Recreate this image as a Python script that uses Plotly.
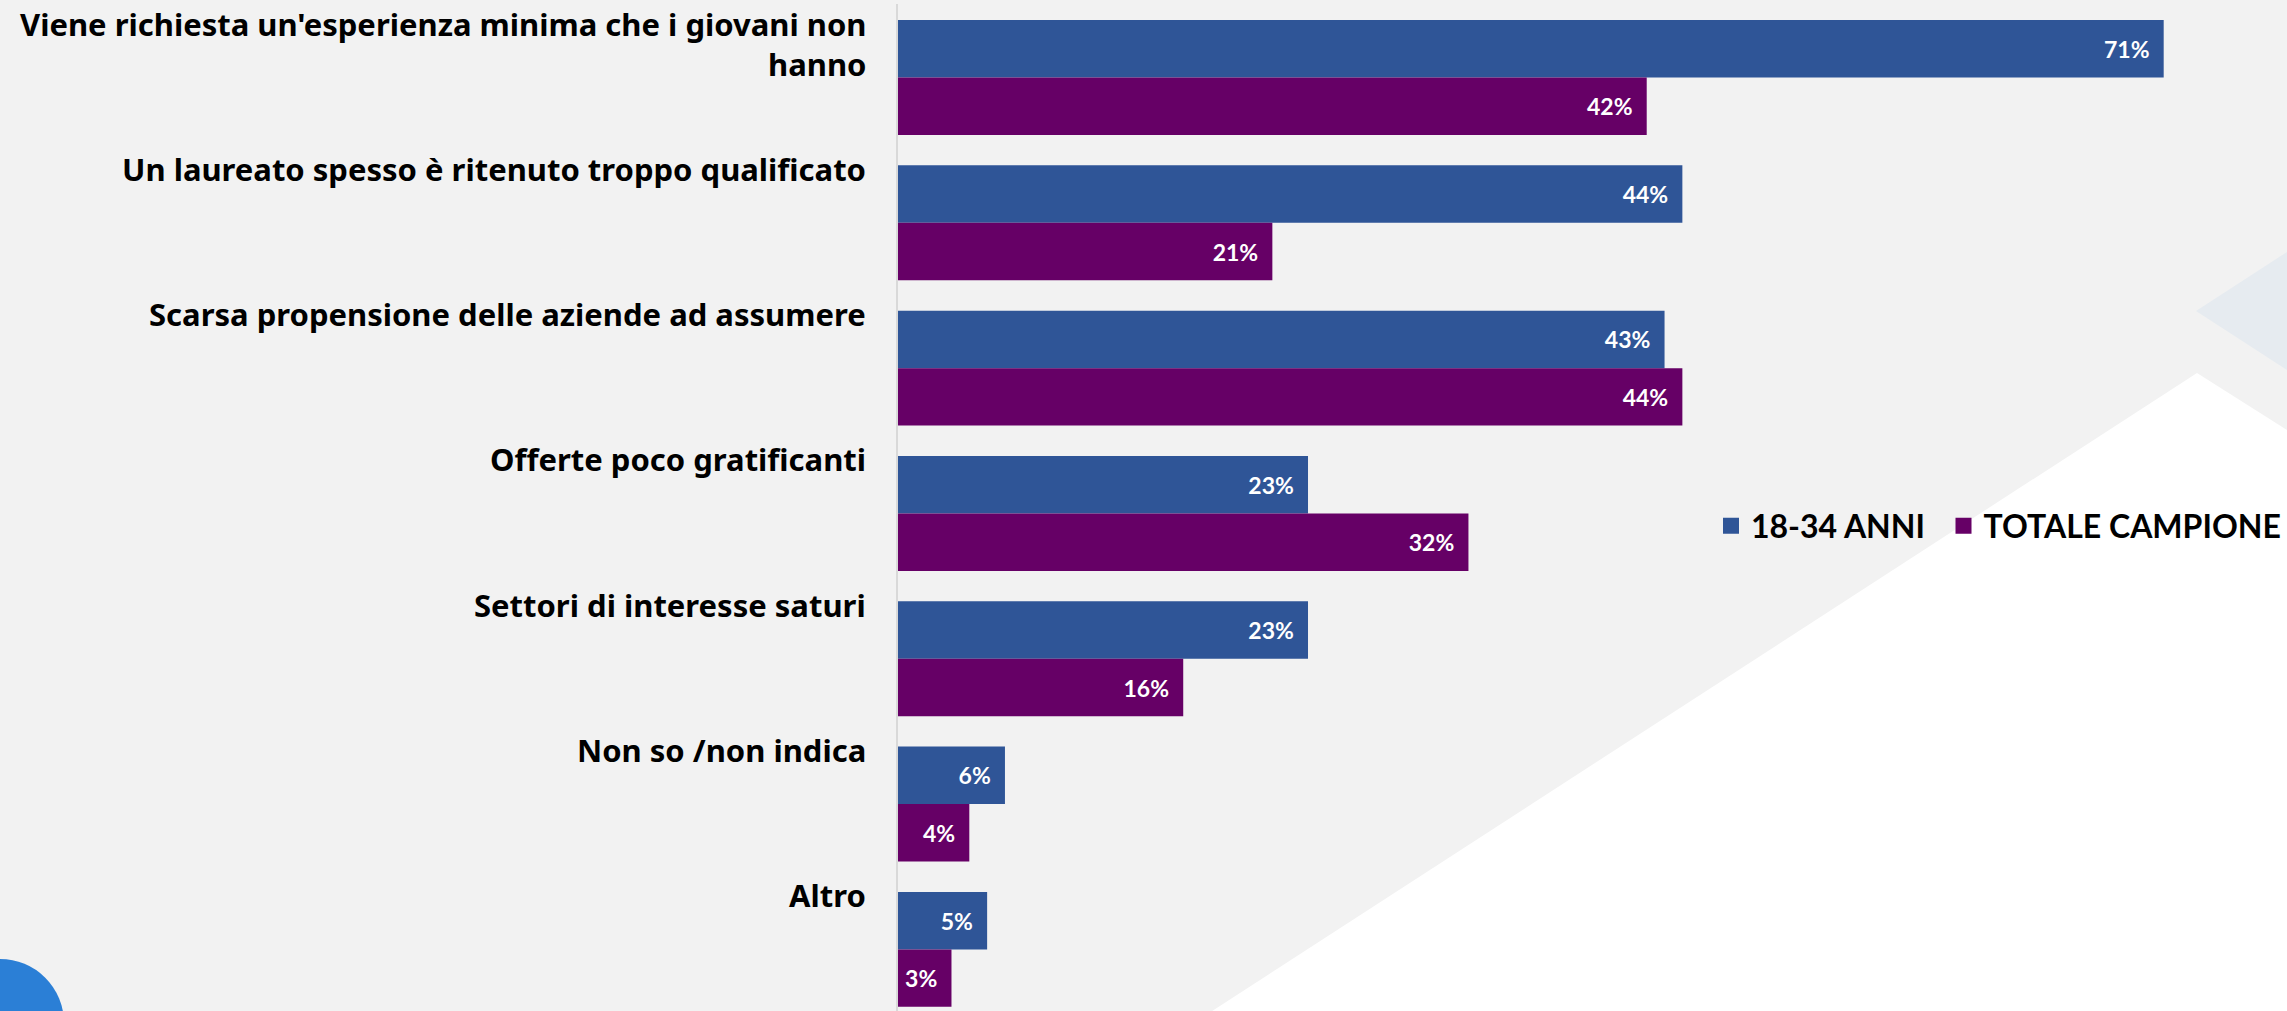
import plotly.graph_objects as go

categories = [
    "Viene richiesta un'esperienza minima che i giovani non<br>hanno",
    "Un laureato spesso è ritenuto troppo qualificato",
    "Scarsa propensione delle aziende ad assumere",
    "Offerte poco gratificanti",
    "Settori di interesse saturi",
    "Non so /non indica",
    "Altro",
]
series_names = ["18-34 ANNI", "TOTALE CAMPIONE"]
giovani = [71, 44, 43, 23, 23, 6, 5]
totale = [42, 21, 44, 32, 16, 4, 3]
label_lines = [2, 1, 1, 1, 1, 1, 1]

BLUE = "#2F5597"
PURPLE = "#660066"
BG = "#F2F2F2"

FW, FH = 2287, 1011
ML, MR, MT, MB = 898, 52, 4, 0
PW, PH = FW - ML - MR, FH - MT - MB


def px(x):
    return (x - ML) / PW


def py(y):
    return 1 - (y - MT) / PH


ycats = [f"c{i}" for i in range(len(categories))]

fig = go.Figure()
pad = "\u00a0\u00a0"
for name, vals, col in [(series_names[0], giovani, BLUE), (series_names[1], totale, PURPLE)]:
    fig.add_trace(go.Bar(
        y=ycats, x=vals, orientation="h", name=name, showlegend=False,
        marker=dict(color=col, line=dict(width=0)),
        text=[f"{v}%{pad}" for v in vals],
        textposition="inside", insidetextanchor="end", textangle=0,
        textfont=dict(family="Lato", size=23, color="white", weight="bold"),
        cliponaxis=False,
    ))
# legend entries (square swatches), one legend per series
for name, col, leg in [(series_names[0], BLUE, "legend"), (series_names[1], PURPLE, "legend2")]:
    fig.add_trace(go.Scatter(
        x=[None], y=[None], mode="markers", name=name,
        marker=dict(symbol="square", size=16, color=col),
        showlegend=True, legend=leg,
    ))

annotations = []
for cat, yc, nl in zip(categories, ycats, label_lines):
    annotations.append(dict(
        x=0, xref="x", y=yc, yref="y", text=cat, showarrow=False,
        xanchor="right", yanchor="middle", align="right",
        xshift=-30, yshift=54 if nl == 1 else 34,
        font=dict(family="Noto Sans", size=31, color="black", weight="bold"),
    ))

shapes = [
    dict(type="path", xref="paper", yref="paper", layer="below",
         path=f"M{px(2197)},{py(373)} L{px(2290)},{py(432)} L{px(2290)},{py(1015)} L{px(1206)},{py(1015)} Z",
         fillcolor="white", line=dict(width=0)),
    dict(type="path", xref="paper", yref="paper", layer="below",
         path=f"M{px(2196)},{py(311)} L{px(2290)},{py(250)} L{px(2290)},{py(372)} Z",
         fillcolor="#E6EBF0", line=dict(width=0)),
    dict(type="circle", xref="paper", yref="paper", layer="below",
         x0=px(-64), x1=px(64), y0=py(959), y1=py(1087),
         fillcolor="#2B7FD6", line=dict(width=0)),
]

legend_common = dict(orientation="h", yanchor="middle", y=py(526), xanchor="left",
                     font=dict(family="Lato", size=32, color="black", weight="bold"),
                     bgcolor="rgba(0,0,0,0)", itemsizing="trace", itemclick=False,
                     itemdoubleclick=False)

fig.update_layout(
    width=FW, height=FH,
    margin=dict(l=ML, r=MR, t=MT, b=MB),
    paper_bgcolor=BG, plot_bgcolor="rgba(0,0,0,0)",
    barmode="group", bargap=0.209, bargroupgap=0,
    showlegend=True,
    legend=dict(x=px(1711), **legend_common),
    legend2=dict(x=px(1943.5), **legend_common),
    uniformtext=dict(minsize=23, mode="show"),
    annotations=annotations,
    shapes=shapes,
)
fig.update_xaxes(range=[0, 75], visible=False, showgrid=False, zeroline=False)
fig.update_yaxes(range=[6.424, -0.506], showticklabels=False, showgrid=False, zeroline=False,
                 showline=True, linecolor="#D9D9D9", linewidth=2, ticks="")

fig.write_html("out.html", config={"displayModeBar": False},
               post_script="document.body.style.margin='0px';")
